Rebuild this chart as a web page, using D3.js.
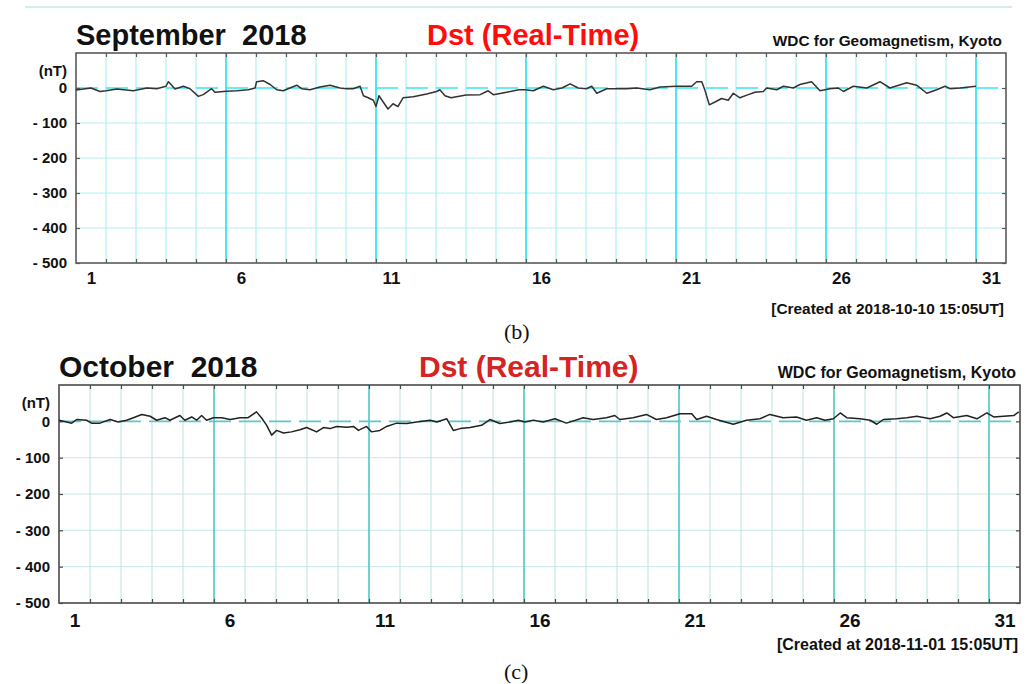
<!DOCTYPE html>
<html>
<head>
<meta charset="utf-8">
<script src="https://cdn.jsdelivr.net/npm/d3@7"></script>
<style>
  body { margin: 0; background: #fff; }
  text { font-family: "Liberation Sans", Arial, sans-serif; }
</style>
</head>
<body>
<script>
// Dst index, days since start of month (fraction) and value in nT
var sepDays = [0, 0.5, 0.8, 1.0, 1.36, 1.91, 2.36, 2.69, 3.0, 3.08, 3.19, 3.3, 3.58, 3.8, 4.08, 4.24, 4.52, 4.63,
  5.02, 5.36, 5.74, 5.97, 6.02, 6.24, 6.47, 6.69, 6.91, 7.13, 7.36, 7.52, 7.8, 8.13, 8.47, 8.8, 9.02, 9.24,
  9.47, 9.58, 9.74, 9.91, 10.0, 10.1, 10.24, 10.4, 10.57, 10.73, 10.9, 11.24, 11.69, 12.02, 12.13, 12.3,
  12.5, 13.0, 13.47, 13.74, 13.91, 14.36, 14.76, 14.97, 15.24, 15.58, 15.91, 16.2, 16.47, 16.74, 17.02,
  17.19, 17.36, 17.69, 18.36, 18.69, 19.13, 19.47, 20.02, 20.52, 20.69, 20.86, 20.97, 21.11, 21.3, 21.52,
  21.74, 21.91, 22.13, 22.41, 22.63, 22.91, 23.02, 23.36, 23.58, 23.91, 24.13, 24.52, 24.8, 25.13, 25.41,
  25.58, 25.91, 26.36, 26.8, 27.13, 27.69, 28.02, 28.36, 28.69, 28.97, 29.13, 29.47, 30.0];
var sepDst = [-6, 0, -10, -8, -3, -8, 0, -2, 5, 18, 8, -3, 5, -2, -24, -19, -2, -12,
  -9, -8, -5, 0, 18, 21, 10, -5, -8, 0, 8, -2, -5, 3, 8, 0, -2, -2,
  5, -22, -28, -35, -53, -22, -40, -60, -45, -53, -28, -25, -17, -10, -5, -22,
  -28, -20, -19, -8, -19, -12, -5, -5, -8, 5, -5, 0, 12, 0, -2,
  5, -15, -2, -2, 0, -5, 3, 5, 5, 18, 18, -8, -48, -40, -30,
  -35, -15, -28, -19, -12, -10, 0, -5, 5, 0, 10, 18, -8, -2, 0,
  -10, 5, 0, 18, 0, 15, 8, -15, -5, 5, -2, 0, 5];

var octDays = [0, 0.25, 0.41, 0.57, 0.89, 1.05, 1.32, 1.65, 1.91, 2.18, 2.4, 2.67, 2.94, 3.15, 3.42, 3.58, 3.9,
  4.06, 4.28, 4.44, 4.6, 4.76, 4.98, 5.25, 5.52, 5.84, 6.1, 6.37, 6.53, 6.7, 6.86, 7.02, 7.24, 7.5, 7.77,
  7.99, 8.31, 8.53, 8.74, 8.96, 9.28, 9.5, 9.66, 9.92, 10.08, 10.35, 10.57, 10.89, 11.21, 11.54, 11.97,
  12.19, 12.51, 12.72, 12.94, 13.26, 13.63, 13.9, 14.22, 14.55, 14.82, 15.03, 15.3, 15.62, 16.0, 16.37,
  16.91, 17.23, 17.66, 17.93, 18.09, 18.52, 18.95, 19.27, 19.6, 20.03, 20.41, 20.57, 20.89, 21.21, 21.75,
  22.18, 22.61, 22.93, 23.36, 23.79, 24.11, 24.44, 24.71, 24.98, 25.2, 25.41, 25.84, 26.17, 26.38, 26.59,
  27.02, 27.35, 27.67, 28.1, 28.42, 28.64, 28.85, 29.28, 29.61, 29.93, 30.15, 30.47, 30.8, 30.96];
var octDst = [3, -2, -5, 5, 3, -5, -5, 5, -2, 3, 10, 19, 14, 3, 10, 3, 16,
  3, 12, 3, 16, 3, 10, 10, 5, 10, 10, 26, 10, -11, -38, -25, -32, -29, -23,
  -17, -29, -17, -20, -14, -16, -14, -25, -14, -29, -25, -14, -5, -6, -2, 3,
  -2, 7, -25, -20, -17, -11, 5, -6, -2, 3, -2, 3, -2, 7, -5,
  10, 5, 10, 16, 5, 10, 19, 5, 10, 21, 21, 5, 14, 5, -8,
  3, 7, 19, 10, 12, 3, 10, 3, 7, 23, 10, 7, 3, -8, 5,
  7, 10, 14, 7, 14, 23, 10, 16, 7, 23, 12, 14, 16, 26];

var yTicks = [0, -100, -200, -300, -400, -500];
var dayLabels = [1, 6, 11, 16, 21, 26, 31];
var gridDays = d3.range(1, 31);

var width = 1026, height = 684;
var svg = d3.select("body").append("svg").attr("width", width).attr("height", height);

// faint edge left over from the panel above
svg.append("line").attr("x1", 25).attr("x2", 1012).attr("y1", 7).attr("y2", 7)
  .attr("stroke", "#c6e6e6").attr("stroke-width", 1.5);

var panels = [
  { days: sepDays, dst: sepDst, left: 76, right: 1006, top: 53, bottom: 263,
    month: "September  2018", created: "[Created at 2018-10-10 15:05UT]", tag: "(b)",
    titleY: 45, titleFont: 29, smallFont: 15.4, axisFont: 17, yFont: 15, labelY: 284, createdY: 314, tagY: 339,
    dstX: 427, red: "#ff0d0d", minor: "#9eeef4", major: "#22e0ec", hgrid: "#b0f0f6", zero: "#3ae4ee",
    frame: "#5a5a5a", curve: "#333" },
  { days: octDays, dst: octDst, left: 59, right: 1020, top: 385, bottom: 603,
    month: "October  2018", created: "[Created at 2018-11-01 15:05UT]", tag: "(c)",
    titleY: 377, titleFont: 30, smallFont: 16, axisFont: 19, yFont: 15, labelY: 627, createdY: 650, tagY: 679,
    dstX: 419, red: "#d42424", minor: "#bde2e2", major: "#4cc6c6", hgrid: "#c6e8e8", zero: "#5cc8c8",
    frame: "#4a4a4a", curve: "#222" }
];

panels.forEach(function (p) {
  var x = d3.scaleLinear().domain([0, 31]).range([p.left, p.right]);
  var y = d3.scaleLinear().domain([-500, 100]).range([p.bottom, p.top]);
  var g = svg.append("g");

  // grid
  g.selectAll(".hgrid").data(yTicks.slice(1, 5)).enter().append("line")
    .attr("x1", p.left).attr("x2", p.right)
    .attr("y1", function (d) { return y(d); }).attr("y2", function (d) { return y(d); })
    .attr("stroke", p.hgrid).attr("stroke-width", 1);

  g.selectAll(".vgrid").data(gridDays).enter().append("line")
    .attr("x1", function (d) { return x(d); }).attr("x2", function (d) { return x(d); })
    .attr("y1", p.top).attr("y2", p.bottom)
    .attr("stroke", function (d) { return d % 5 === 0 ? p.major : p.minor; })
    .attr("stroke-width", function (d) { return d % 5 === 0 ? 1.6 : 1; });

  g.append("line")
    .attr("x1", p.left).attr("x2", p.right).attr("y1", y(0)).attr("y2", y(0))
    .attr("stroke", p.zero).attr("stroke-width", 1.6).attr("stroke-dasharray", "22,8");

  // tick marks on all four sides
  var tickAxes = [
    [d3.axisTop(x).tickValues(gridDays), "translate(0," + p.top + ")"],
    [d3.axisBottom(x).tickValues(gridDays), "translate(0," + p.bottom + ")"],
    [d3.axisLeft(y).tickValues(yTicks), "translate(" + p.left + ",0)"],
    [d3.axisRight(y).tickValues(yTicks), "translate(" + p.right + ",0)"]
  ];
  tickAxes.forEach(function (a) {
    var ag = g.append("g").attr("transform", a[1])
      .call(a[0].tickSize(-4).tickFormat(""));
    ag.select(".domain").remove();
    ag.selectAll("line").attr("stroke", p.frame).attr("stroke-width", 1.2);
  });

  g.append("rect")
    .attr("x", p.left).attr("y", p.top)
    .attr("width", p.right - p.left).attr("height", p.bottom - p.top)
    .attr("fill", "none").attr("stroke", p.frame).attr("stroke-width", 1.6);

  // Dst curve
  var line = d3.line()
    .x(function (d, i) { return x(p.days[i]); })
    .y(function (d) { return y(d); });
  g.append("path").datum(p.dst)
    .attr("d", line)
    .attr("fill", "none").attr("stroke", p.curve).attr("stroke-width", 1.5)
    .attr("stroke-linejoin", "round");

  // y labels
  var yl = g.append("g").attr("transform", "translate(" + p.left + ",0)")
    .call(d3.axisLeft(y).tickValues(yTicks).tickSize(0).tickPadding(9)
      .tickFormat(function (d) { return d === 0 ? "0" : "- " + Math.abs(d); }));
  yl.select(".domain").remove();
  yl.selectAll("text").style("font-family", "Liberation Sans, Arial, sans-serif")
    .style("font-size", p.yFont + "px").style("font-weight", "bold").attr("fill", "#111");

  g.append("text").attr("x", p.left - 9).attr("y", (p.top + y(0)) / 2 + 5)
    .attr("text-anchor", "end").style("font-size", p.yFont + "px").style("font-weight", "bold")
    .attr("fill", "#111").text("(nT)");

  // x labels centred on each day
  var xl = g.append("g").attr("transform", "translate(0," + p.bottom + ")")
    .call(d3.axisBottom(x).tickValues(dayLabels.map(function (d) { return d - 0.5; }))
      .tickSize(0).tickPadding(p.labelY - p.bottom - p.axisFont * 0.71)
      .tickFormat(function (d) { return Math.round(d + 0.5); }));
  xl.select(".domain").remove();
  xl.selectAll("text").style("font-family", "Liberation Sans, Arial, sans-serif")
    .style("font-size", p.axisFont + "px").style("font-weight", "bold").attr("fill", "#111");

  // headings
  g.append("text").attr("x", p.left).attr("y", p.titleY)
    .style("font-size", p.titleFont + "px").style("font-weight", "bold").attr("fill", "#111")
    .style("white-space", "pre").text(p.month);
  g.append("text").attr("x", p.dstX).attr("y", p.titleY)
    .style("font-size", p.titleFont + "px").style("font-weight", "bold").attr("fill", p.red)
    .text("Dst (Real-Time)");
  g.append("text").attr("x", p.right - 4).attr("y", p.titleY + 1).attr("text-anchor", "end")
    .style("font-size", p.smallFont + "px").style("font-weight", "bold").attr("fill", "#111")
    .text("WDC for Geomagnetism, Kyoto");
  g.append("text").attr("x", p.right - 2).attr("y", p.createdY).attr("text-anchor", "end")
    .style("font-size", p.smallFont + "px").style("font-weight", "bold").attr("fill", "#111")
    .text(p.created);
  g.append("text").attr("x", 504).attr("y", p.tagY)
    .style("font-family", "Liberation Serif, Times New Roman, serif")
    .style("font-size", "22px").attr("fill", "#111").text(p.tag);
});
</script>
</body>
</html>
